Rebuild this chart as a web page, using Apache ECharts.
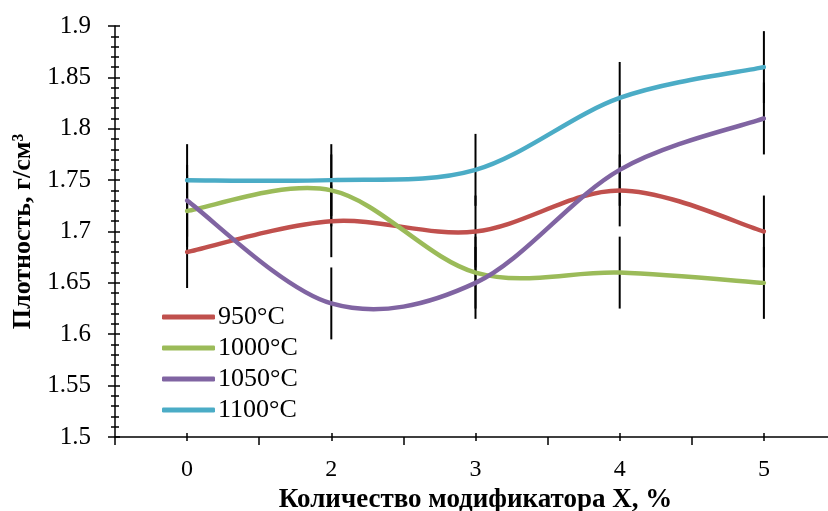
<!DOCTYPE html>
<html>
<head>
<meta charset="utf-8">
<script src="https://cdn.jsdelivr.net/npm/echarts@6/dist/echarts.min.js"></script>
<style>
html,body{margin:0;padding:0;background:#fff;}
#c{width:828px;height:511px;}
</style>
</head>
<body>
<div id="c"></div>
<script>
const categories = ['0', '2', '3', '4', '5'];
const seriesNames = ['950°C', '1000°C', '1050°C', '1100°C'];
const s950 = [1.68, 1.71, 1.70, 1.74, 1.70];
const s1000 = [1.72, 1.74, 1.66, 1.66, 1.65];
const s1050 = [1.73, 1.63, 1.65, 1.76, 1.81];
const s1100 = [1.75, 1.75, 1.76, 1.83, 1.86];
const errors = [0.035, 0.035, 0.035, 0.035, 0.035];
const colors = ['#C0504D', '#9BBB59', '#8064A2', '#4BACC6'];
const yTicks = { min: 1.5, max: 1.9, interval: 0.05 };

const allSeries = [s950, s1000, s1050, s1100];
const font = 'Liberation Serif';

const chart = echarts.init(document.getElementById('c'), null, { renderer: 'canvas' });

const errData = [];
allSeries.forEach(function (s) {
  s.forEach(function (v, i) {
    errData.push([i, v - errors[i], v + errors[i]]);
  });
});

const series = [{
  type: 'custom',
  name: 'err',
  z: 1,
  silent: true,
  data: errData,
  renderItem: function (params, api) {
    const lo = api.coord([api.value(0), api.value(1)]);
    const hi = api.coord([api.value(0), api.value(2)]);
    return {
      type: 'line',
      shape: { x1: lo[0], y1: lo[1], x2: hi[0], y2: hi[1] },
      style: { stroke: '#000', lineWidth: 2 }
    };
  }
}];

// Excel-like smoothing (Catmull-Rom converted to cubic Bezier)
function smoothPath(pts) {
  let d = 'M' + pts[0][0] + ' ' + pts[0][1];
  for (let i = 0; i < pts.length - 1; i++) {
    const p0 = pts[i - 1] || pts[i];
    const p1 = pts[i];
    const p2 = pts[i + 1];
    const p3 = pts[i + 2] || pts[i + 1];
    const c1x = p1[0] + (p2[0] - p0[0]) / 6;
    const c1y = p1[1] + (p2[1] - p0[1]) / 6;
    const c2x = p2[0] - (p3[0] - p1[0]) / 6;
    const c2y = p2[1] - (p3[1] - p1[1]) / 6;
    d += ' C' + c1x + ' ' + c1y + ' ' + c2x + ' ' + c2y + ' ' + p2[0] + ' ' + p2[1];
  }
  return d;
}

allSeries.forEach(function (s, k) {
  series.push({
    type: 'custom',
    name: seriesNames[k],
    data: s.map(function (v, i) { return [i, v]; }),
    encode: { x: 0, y: 1 },
    z: 3,
    itemStyle: { color: colors[k] },
    renderItem: function (params, api) {
      if (params.dataIndex !== 0) return null;
      const pts = s.map(function (v, i) { return api.coord([i, v]); });
      return {
        type: 'path',
        shape: { pathData: smoothPath(pts) },
        style: { stroke: colors[k], lineWidth: 4.5, fill: 'none', lineCap: 'round', lineJoin: 'round' }
      };
    }
  });
});

const baseX = {
  type: 'category',
  data: categories,
  boundaryGap: true,
  position: 'bottom'
};

chart.setOption({
  animation: false,
  backgroundColor: '#fff',
  grid: { left: 115, right: -8, top: 26, bottom: 74, containLabel: false, outerBoundsMode: 'none' },
  legend: {
    data: seriesNames,
    orient: 'vertical',
    left: 157,
    top: 298,
    itemWidth: 53,
    itemHeight: 5,
    itemGap: 3,
    icon: 'roundRect',
    textStyle: { fontFamily: font, fontSize: 26, color: '#000', lineHeight: 28, padding: [0, 0, 0, -2] }
  },
  xAxis: [
    Object.assign({}, baseX, {
      name: 'Количество модификатора X, %',
      nameLocation: 'middle',
      nameGap: 45,
      nameTextStyle: { fontFamily: font, fontSize: 27, fontWeight: 'bold', color: '#000' },
      axisLine: { show: true, onZero: false, lineStyle: { color: '#000', width: 1.5 } },
      axisTick: { show: true, alignWithLabel: false, length: 8, lineStyle: { color: '#000', width: 1.5 } },
      axisLabel: { fontFamily: font, fontSize: 24, color: '#000', margin: 21 },
      splitLine: { show: false }
    }),
    Object.assign({}, baseX, {
      axisLine: { show: false, onZero: false },
      axisTick: { show: true, alignWithLabel: true, length: 4, lineStyle: { color: '#000', width: 1.5 } },
      axisLabel: { show: false },
      splitLine: { show: false }
    }),
    Object.assign({}, baseX, {
      axisLine: { show: false, onZero: false },
      axisTick: { show: true, alignWithLabel: true, inside: true, length: 4, lineStyle: { color: '#000', width: 1.5 } },
      axisLabel: { show: false },
      splitLine: { show: false }
    })
  ],
  yAxis: [
    {
      type: 'value',
      min: yTicks.min, max: yTicks.max, interval: yTicks.interval,
      name: 'Плотность, г/см³',
      nameLocation: 'middle',
      nameGap: 78,
      nameRotate: 90,
      nameTextStyle: { fontFamily: font, fontSize: 26, fontWeight: 'bold', color: '#000' },
      axisLine: { show: true, onZero: false, lineStyle: { color: '#000', width: 1.5 } },
      axisTick: { show: true, length: 7, lineStyle: { color: '#000', width: 1.5 } },
      minorTick: { show: true, splitNumber: 5, length: 4, lineStyle: { color: '#000', width: 1.5 } },
      axisLabel: {
        fontFamily: font, fontSize: 25, color: '#000', margin: 24,
        formatter: function (v) { return String(Math.round(v * 100) / 100); }
      },
      splitLine: { show: false },
      minorSplitLine: { show: false }
    },
    {
      type: 'value',
      min: yTicks.min, max: yTicks.max, interval: yTicks.interval,
      position: 'left',
      axisLine: { show: false, onZero: false },
      axisTick: { show: true, inside: true, length: 5, lineStyle: { color: '#000', width: 1.5 } },
      minorTick: { show: true, splitNumber: 5, length: 4, lineStyle: { color: '#000', width: 1.5 } },
      axisLabel: { show: false },
      splitLine: { show: false },
      minorSplitLine: { show: false }
    }
  ],
  series: series
});
</script>
</body>
</html>
